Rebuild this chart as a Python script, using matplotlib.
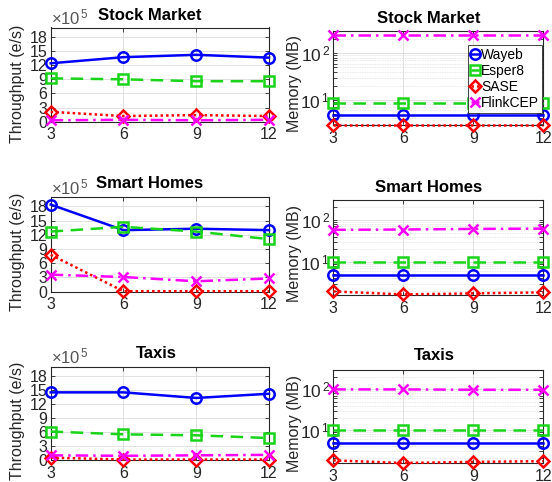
import matplotlib
matplotlib.use("Agg")
import matplotlib.pyplot as plt
from matplotlib.ticker import LogLocator, NullFormatter, FixedLocator, FixedFormatter

plt.rcParams['font.family'] = ['Liberation Sans', 'DejaVu Sans']
plt.rcParams['mathtext.fontset'] = 'custom'
plt.rcParams['mathtext.rm'] = 'Liberation Sans'
plt.rcParams['mathtext.it'] = 'Liberation Sans'

# ---- data ----
pattern_length = [3, 6, 9, 12]
datasets = ["Stock Market", "Smart Homes", "Taxis"]
engines = ["Wayeb", "Esper8", "SASE", "FlinkCEP"]

# throughput in units of 1e5 events/s
thr_stock_wayeb = [12.4, 13.7, 14.2, 13.6]
thr_stock_esper = [9.2, 9.0, 8.6, 8.6]
thr_stock_sase = [2.1, 1.2, 1.4, 1.2]
thr_stock_flink = [0.3, 0.4, 0.3, 0.4]

thr_homes_wayeb = [18.4, 13.0, 13.3, 13.0]
thr_homes_esper = [12.7, 13.7, 12.7, 11.1]
thr_homes_sase = [7.8, 0.1, 0.1, 0.1]
thr_homes_flink = [3.6, 3.1, 2.2, 2.8]

thr_taxis_wayeb = [14.5, 14.5, 13.3, 14.2]
thr_taxis_esper = [6.1, 5.5, 5.3, 4.7]
thr_taxis_sase = [0.5, 0.1, 0.1, 0.1]
thr_taxis_flink = [1.0, 0.9, 1.0, 1.1]

# memory in MB
mem_stock_wayeb = [4.7, 4.7, 4.7, 4.7]
mem_stock_esper = [8.6, 8.6, 8.6, 8.6]
mem_stock_sase = [2.95, 2.95, 2.95, 2.95]
mem_stock_flink = [245, 245, 245, 245]

mem_homes_wayeb = [4.9, 4.9, 4.9, 4.9]
mem_homes_esper = [9.8, 9.8, 9.8, 9.8]
mem_homes_sase = [1.95, 1.65, 1.75, 1.85]
mem_homes_flink = [58, 59, 61, 62]

mem_taxis_wayeb = [4.7, 4.7, 4.7, 4.7]
mem_taxis_esper = [9.8, 9.8, 9.8, 9.8]
mem_taxis_sase = [1.8, 1.55, 1.65, 1.72]
mem_taxis_flink = [100, 100, 98, 98]

throughput = [
    [thr_stock_wayeb, thr_stock_esper, thr_stock_sase, thr_stock_flink],
    [thr_homes_wayeb, thr_homes_esper, thr_homes_sase, thr_homes_flink],
    [thr_taxis_wayeb, thr_taxis_esper, thr_taxis_sase, thr_taxis_flink],
]
memory = [
    [mem_stock_wayeb, mem_stock_esper, mem_stock_sase, mem_stock_flink],
    [mem_homes_wayeb, mem_homes_esper, mem_homes_sase, mem_homes_flink],
    [mem_taxis_wayeb, mem_taxis_esper, mem_taxis_sase, mem_taxis_flink],
]
mem_ylim_low = [2.9, 1.6, 1.55]

# ---- styles ----
styles = [
    dict(color='#0000FF', linestyle='-', marker='o'),
    dict(color='#19D419', linestyle=(0, (5, 3)), marker='s'),
    dict(color='#FF0000', linestyle=(0, (1, 1.2)), marker='D'),
    dict(color='#FF00FF', linestyle=(0, (5, 2, 1, 2)), marker='x'),
]
msizes = [7.5, 6.5, 6.5, 6.5]
axcol = '#262626'

W, H = 552, 482
fig = plt.figure(figsize=(W / 100, H / 100), dpi=100)


def px_axes(x0, y0, x1, y1):
    return fig.add_axes([x0 / W, 1 - y1 / H, (x1 - x0) / W, (y1 - y0) / H])


left_rows = [(27.5, 121.7), (197, 291.7), (366.7, 460)]
right_rows = [(31, 125), (200, 295), (370, 463)]
left_titles = [(149.5, 15), (150, 184), (156.5, 353.3)]
right_titles = [(428.3, 18.3), (429, 187.3), (434.8, 356)]
left_ylab_y = [84, 251.5, 421]
right_ylab_y = [83, 253, 423]


def style_axes(ax):
    for s in ax.spines.values():
        s.set_color(axcol)
        s.set_linewidth(0.8)
    ax.tick_params(which='both', direction='in', top=True, right=True,
                   colors=axcol, labelsize=11.5, length=3, width=0.6)
    ax.tick_params(axis='x', pad=4)
    ax.tick_params(axis='y', pad=2.5)
    ax.set_xlim(3, 12)
    ax.set_xticks(pattern_length)
    ax.set_xticklabels([str(v) for v in pattern_length])


for r in range(3):
    # throughput (linear)
    y0, y1 = left_rows[r]
    ax = px_axes(50.7, y0, 269, y1)
    style_axes(ax)
    ax.set_ylim(0, 20)
    ax.set_yticks([0, 3, 6, 9, 12, 15, 18])
    ax.grid(True, color='#DCDCDC', linewidth=0.6)
    ax.set_axisbelow(True)
    for k in range(4):
        ax.plot(pattern_length, throughput[r][k], lw=1.8, ms=msizes[k],
                mfc='none', mew=1.8, clip_on=False, zorder=3, **styles[k])
    ax.text(0.0, 1.0, r'$\times10^{\,5}$', transform=ax.transAxes, ha='left',
            va='bottom', fontsize=12, color='#555555')
    fig.text(left_titles[r][0] / W, 1 - left_titles[r][1] / H, datasets[r],
             ha='center', va='center', fontsize=12, fontweight='bold', color='black')
    fig.text(18 / W, 1 - left_ylab_y[r] / H, 'Throughput (e/s)', rotation=90,
             ha='center', va='center', fontsize=11.5, color=axcol)

    # memory (log)
    y0, y1 = right_rows[r]
    ax2 = px_axes(333.3, y0, 543.3, y1)
    style_axes(ax2)
    ax2.set_yscale('log')
    ax2.set_ylim(mem_ylim_low[r], 300)
    ax2.yaxis.set_major_locator(FixedLocator([10, 100]))
    ax2.yaxis.set_major_formatter(FixedFormatter([r'$10^{\,1}$', r'$10^{\,2}$']))
    ax2.yaxis.set_minor_locator(LogLocator(base=10, subs=range(2, 10)))
    ax2.yaxis.set_minor_formatter(NullFormatter())
    ax2.tick_params(axis='y', which='major', labelsize=12.5)
    ax2.grid(True, which='major', color='#DCDCDC', linewidth=0.6)
    ax2.grid(True, which='minor', axis='y', color='#E2E2E2', linewidth=0.6,
             linestyle=(0, (1, 1)))
    ax2.set_axisbelow(True)
    handles = []
    for k in range(4):
        ln, = ax2.plot(pattern_length, memory[r][k], lw=1.8, ms=msizes[k],
                       mfc='none', mew=1.8, clip_on=False, zorder=3,
                       label=engines[k], **styles[k])
        handles.append(ln)
    fig.text(right_titles[r][0] / W, 1 - right_titles[r][1] / H, datasets[r],
             ha='center', va='center', fontsize=12, fontweight='bold', color='black')
    fig.text(295 / W, 1 - right_ylab_y[r] / H, 'Memory (MB)', rotation=90,
             ha='center', va='center', fontsize=11.5, color=axcol)
    if r == 0:
        leg = ax2.legend(handles=handles, loc='upper right',
                         bbox_to_anchor=(541.7 / W, 1 - 45 / H),
                         bbox_transform=fig.transFigure, fontsize=10,
                         handlelength=0.6, handletextpad=0.15, borderpad=0.2,
                         labelspacing=0.15, borderaxespad=0, fancybox=False,
                         framealpha=1, edgecolor=axcol)
        leg.get_frame().set_linewidth(0.6)
        leg.set_zorder(5)

fig.savefig('out.png', dpi=100)
